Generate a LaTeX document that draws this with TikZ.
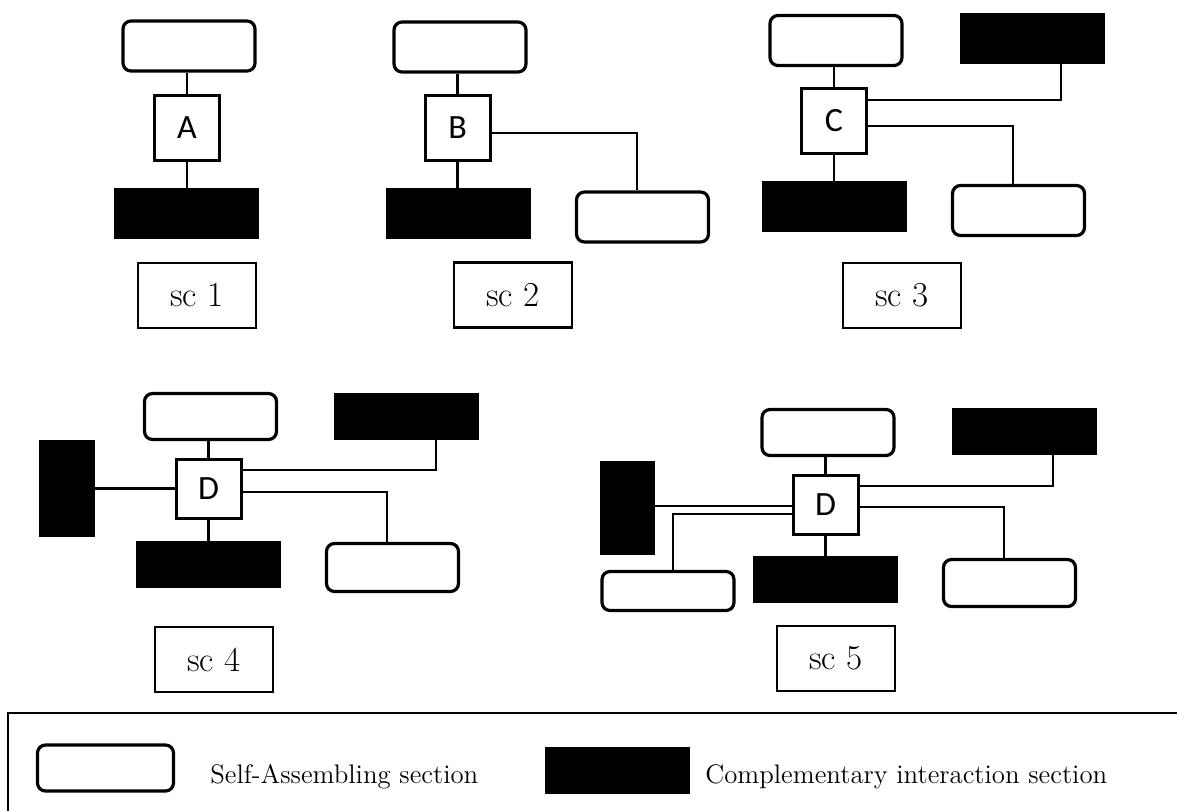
\documentclass[tikz,border=0pt]{standalone}
\usepackage{fontspec}
\usepackage{tikz}
\newfontfamily\corefont{Carlito}

\begin{document}
\begin{tikzpicture}[x=0.5pt,y=-0.5pt,
	sa/.style={draw, rounded corners=4pt, line width=1.6pt, minimum width=66pt, minimum height=25pt, inner sep=0pt},
	ci/.style={draw, fill=black, minimum width=72pt, minimum height=25pt, inner sep=0pt},
	core/.style={draw, line width=1.5pt, minimum width=32.5pt, minimum height=32.5pt, inner sep=0pt, font=\corefont\fontsize{17}{19}\selectfont},
	tag/.style={draw, line width=1.4pt, minimum width=59pt, minimum height=32.5pt, inner sep=0pt, font=\fontsize{17.5}{20}\selectfont},
	link/.style={line width=1.4pt}]
	\useasboundingbox (0,0) rectangle (1177,811);

	\node(top1) [sa] at (189,46) {};
	\node(A) [core] at (187,128) {A};
	\node(ci1) [ci] at (186.5,213) {};
	\node(sc1) [tag] at (197,295.5) {sc 1};

	\node(top2) [sa] at (460,47) {};
	\node(B) [core] at (457.5,128) {B};
	\node(ci2) [ci] at (458,213) {};
	\node(sa2) [sa] at (642.5,217) {};
	\node(sc2) [tag] at (513,295) {sc 2};

	\node(top3) [sa] at (836,40.5) {};
	\node(ciT3) [ci] at (1032.5,38.5) {};
	\node(C) [core] at (834,121) {C};
	\node(ci3) [ci] at (834.5,206) {};
	\node(sa3) [sa] at (1018.5,210.5) {};
	\node(sc3) [tag] at (902,295.5) {sc 3};

	\node(top4) [sa, minimum height=23pt] at (210.5,416.5) {};
	\node(ciT4) [ci, minimum height=23pt] at (406.5,416) {};
	\node(D4) [core, minimum height=29.5pt] at (208.5,488.5) {D};
	\node(ciL4) [ci, minimum width=27.5pt, minimum height=48pt] at (67,488.5) {};
	\node(ci4) [ci, minimum height=23pt] at (208.5,564) {};
	\node(sa4) [sa, minimum height=24pt] at (392.5,567.5) {};
	\node(sc4) [tag] at (214,659.5) {sc 4};

	\node(top5) [sa, minimum height=23pt] at (828,432.5) {};
	\node(ciT5) [ci, minimum height=23pt] at (1024,431) {};
	\node(D5) [core, minimum height=29.5pt] at (825.5,504.5) {D};
	\node(ci5) [ci, minimum height=23pt] at (825.5,579) {};
	\node(ciL5) [ci, minimum width=27pt, minimum height=46.5pt] at (627.5,508) {};
	\node(saL5) [sa, minimum height=19.5pt] at (668,591) {};
	\node(sa5) [sa, minimum height=23.5pt] at (1009.5,583) {};
	\node(sc5) [tag] at (836,658.5) {sc 5};

	\draw[link] (A.north) -- (A.north |- top1.south);
	\draw[link] (A.south) -- (A.south |- ci1.north);

	\draw[link] (B.north) -- (B.north |- top2.south);
	\draw[link] (B.south) -- (B.south |- ci2.north);
	\draw[link] (B.east |- 0,133) -| (637,0 |- sa2.north);

	\draw[link] (C.north) -- (C.north |- top3.south);
	\draw[link] (C.south) -- (C.south |- ci3.north);
	\draw[link] (C.east |- 0,100) -| (1061,0 |- ciT3.south);
	\draw[link] (C.east |- 0,126) -| (1013,0 |- sa3.north);

	\draw[link] (D4.north) -- (D4.north |- top4.south);
	\draw[link] (D4.south) -- (D4.south |- ci4.north);
	\draw[link] (ciL4.east) -- (ciL4.east -| D4.west);
	\draw[link] (D4.east |- 0,470) -| (436,0 |- ciT4.south);
	\draw[link] (D4.east |- 0,492) -| (387,0 |- sa4.north);

	\draw[link] (D5.north) -- (D5.north |- top5.south);
	\draw[link] (D5.south) -- (D5.south |- ci5.north);
	\draw[link] (ciL5.east |- 0,506) -- (D5.west |- 0,506);
	\draw[link] (D5.west |- 0,514) -| (673,0 |- saL5.north);
	\draw[link] (D5.east |- 0,486) -| (1053,0 |- ciT5.south);
	\draw[link] (D5.east |- 0,507) -| (1004,0 |- sa5.north);

	\draw[line width=1.4pt] (1177,713) -- (8,713) -- (8,811);
	\node(keySA) [sa, minimum width=68pt, minimum height=23pt] at (105.5,768) {};
	\node(txtSA) [anchor=base west, inner sep=0pt, font=\fontsize{13.4}{15}\selectfont] at (210,783) {Self-Assembling section};
	\node(keyCI) [ci, minimum height=23pt] at (617.5,770.5) {};
	\node(txtCI) [anchor=base west, inner sep=0pt, font=\fontsize{13.4}{15}\selectfont] at (705,783) {Complementary interaction section};
\end{tikzpicture}
\end{document}
